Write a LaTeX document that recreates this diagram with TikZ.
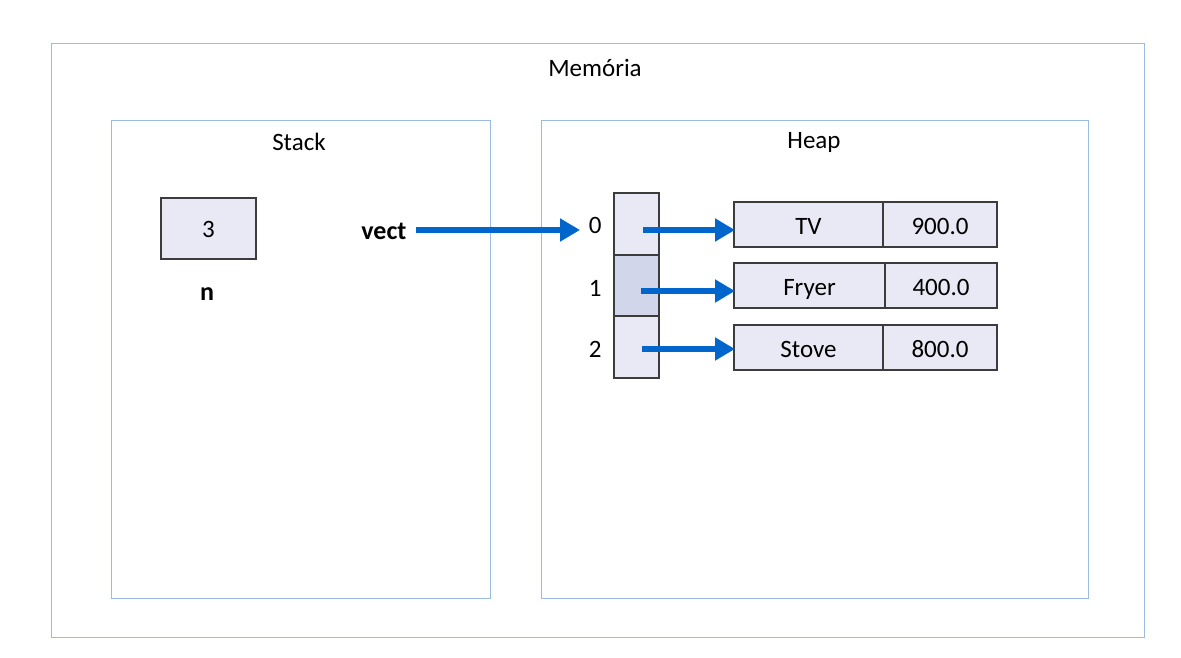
\documentclass[tikz,border=0pt]{standalone}
\usepackage{fontspec}
\setmainfont{Carlito}
\usetikzlibrary{arrows.meta}
\definecolor{frameblue}{RGB}{155,187,225}
\definecolor{cellfill}{RGB}{233,233,245}
\definecolor{cellsel}{RGB}{210,214,235}
\definecolor{arrblue}{RGB}{0,102,204}
\definecolor{edge}{RGB}{60,60,60}
\tikzset{
  region/.style={draw=frameblue, line width=1pt},
  lbl/.style={font=\fontsize{25}{27}\selectfont, text=black},
  blbl/.style={font=\bfseries\fontsize{26}{28}\selectfont, text=black},
  cell/.style={draw=edge, line width=1.2pt, fill=cellfill},
  ptr/.style={draw=arrblue, line width=5.5pt, -{Triangle[length=20pt,width=22pt]}},
}
\begin{document}
\begin{tikzpicture}[x=1pt,y=-1pt]
\useasboundingbox (0,0) rectangle (1181,658);
\fill[white] (0,0) rectangle (1181,658);
% regions
\draw[region] (51,44) rectangle (1144,637);
\node[lbl] (mem) at (595,68) {Memória};
\draw[region] (111,121) rectangle (490,598);
\node[lbl] (stk) at (299,142) {Stack};
\draw[region] (541,121) rectangle (1088,598);
\node[lbl] (hp) at (814,142) {Heap};
% stack
\draw[cell] (161,198) rectangle (256,259);
\node[lbl] (n3) at (208.5,229) {3};
\node[blbl] (nlab) at (207,294) {n};
\node[blbl,anchor=east] (vect) at (410,231) {vect};
% array
\draw[cell] (614,193) rectangle (659,255);
\draw[cell,fill=cellsel] (614,255) rectangle (659,316);
\draw[cell] (614,316) rectangle (659,378);
\coordinate (c0) at (643,230);
\coordinate (c1) at (641,291);
\coordinate (c2) at (642,349);
\node[lbl,anchor=east] (i0) at (605,225) {0};
\node[lbl,anchor=east] (i1) at (605,288) {1};
\node[lbl,anchor=east] (i2) at (605,349) {2};
% objects
\draw[cell] (734,202) rectangle (997,247);
\draw[edge,line width=1.2pt] (883,202) -- (883,247);
\draw[cell] (734,263) rectangle (997,308);
\draw[edge,line width=1.2pt] (885,263) -- (885,308);
\draw[cell] (734,325) rectangle (997,370);
\draw[edge,line width=1.2pt] (883,325) -- (883,370);
\node[lbl] (tv) at (808.5,226) {TV};
\node[lbl] (tvp) at (940,226) {900.0};
\node[lbl] (fr) at (809.5,289) {Fryer};
\node[lbl] (frp) at (941,287) {400.0};
\node[lbl] (st) at (808.5,349) {Stove};
\node[lbl] (stp) at (940,349) {800.0};
\coordinate (o0) at (735,230);
\coordinate (o1) at (735,291);
\coordinate (o2) at (735,349);
\coordinate (vs) at (416,230);
\coordinate (arr0) at (580,230);
% arrows
\draw[ptr] (vs) -- (arr0);
\draw[ptr] (c0) -- (o0);
\draw[ptr] (c1) -- (o1);
\draw[ptr] (c2) -- (o2);
\end{tikzpicture}
\end{document}
